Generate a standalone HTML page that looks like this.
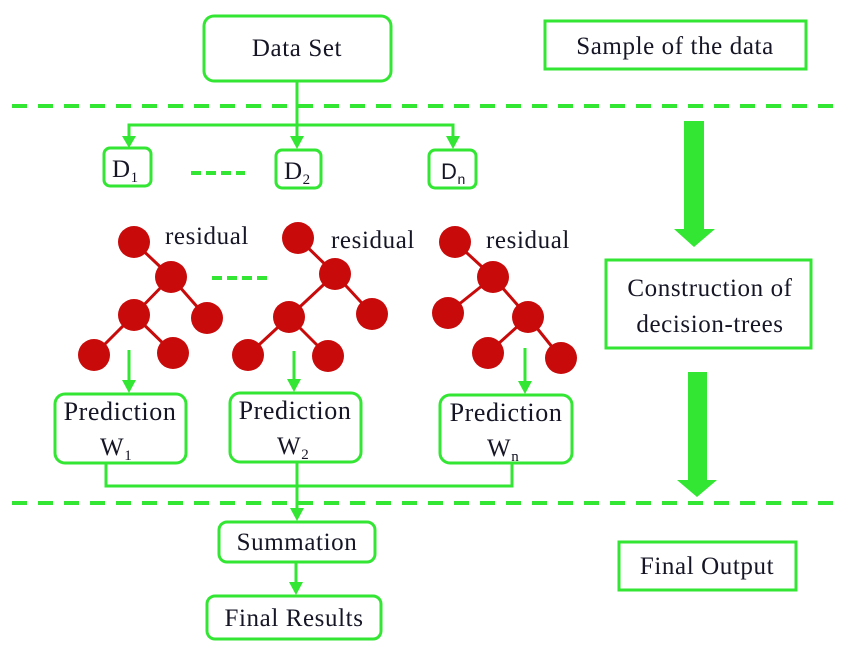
<!DOCTYPE html>
<html><head><meta charset="utf-8"><style>
html,body{margin:0;padding:0;background:#fff;}
svg{display:block;}
text{font-family:"Liberation Serif",serif;fill:#151525;letter-spacing:0.6px;}
</style></head><body>
<svg width="850" height="657" viewBox="0 0 850 657" xmlns="http://www.w3.org/2000/svg">
<g stroke="#33e633" fill="none" stroke-width="3">
<line x1="12" y1="106" x2="835" y2="106" stroke-width="4" stroke-dasharray="15 11"/>
<line x1="12" y1="503" x2="835" y2="503" stroke-width="4" stroke-dasharray="15 11"/>
<rect x="204" y="16" width="187" height="65" rx="10"/>
<rect x="545" y="21" width="261" height="48"/>
<rect x="606" y="260" width="205" height="88"/>
<rect x="619" y="542" width="177" height="48"/>
<rect x="104" y="148" width="47" height="38" rx="6"/>
<rect x="276" y="150" width="45" height="38" rx="6"/>
<rect x="429" y="150" width="47" height="38" rx="6"/>
<rect x="55" y="394" width="131" height="69" rx="10"/>
<rect x="230" y="393" width="131" height="69" rx="10"/>
<rect x="440" y="395" width="132" height="68" rx="10"/>
<rect x="219" y="522" width="156" height="40" rx="8"/>
<rect x="207" y="596" width="174" height="43" rx="8"/>
<line x1="297" y1="81" x2="297" y2="138"/>
<polyline points="129,138 129,125 453,125 453,138"/>
<line x1="129" y1="350" x2="129" y2="382"/>
<line x1="294" y1="351" x2="294" y2="381"/>
<line x1="525" y1="348" x2="525" y2="383"/>
<polyline points="106,463 106,486 512,486 512,463"/>
<line x1="297" y1="462" x2="297" y2="510"/>
<line x1="296" y1="562" x2="296" y2="584"/>
<line x1="191" y1="173" x2="245" y2="173" stroke-width="4" stroke-dasharray="10 5"/>
<line x1="212" y1="278" x2="268" y2="278" stroke-width="4" stroke-dasharray="10 5"/>
</g>
<g fill="#33e633">
<path d="M122,136 L136,136 L129,148 Z"/>
<path d="M290,136 L304,136 L297,149 Z"/>
<path d="M446,136 L460,136 L453,149 Z"/>
<path d="M122,380 L136,380 L129,393 Z"/>
<path d="M287,379 L301,379 L294,392 Z"/>
<path d="M518,381 L532,381 L525,394 Z"/>
<path d="M290,508 L304,508 L297,521 Z"/>
<path d="M289,582 L303,582 L296,595 Z"/>
<rect x="684" y="121" width="20" height="108"/>
<path d="M674,229 L715,229 L694,247 Z"/>
<rect x="688" y="372" width="19" height="108"/>
<path d="M677,480 L717,480 L697,497 Z"/>
</g>
<g stroke="#c80a0a" stroke-width="3">
<line x1="134" y1="242" x2="171" y2="277"/><line x1="171" y1="277" x2="134" y2="315"/><line x1="171" y1="277" x2="207" y2="318"/><line x1="134" y1="315" x2="94" y2="355"/><line x1="134" y1="315" x2="173" y2="353"/>
<line x1="298" y1="238" x2="335" y2="274"/><line x1="335" y1="274" x2="289" y2="317"/><line x1="335" y1="274" x2="372" y2="314"/><line x1="289" y1="317" x2="248" y2="355"/><line x1="289" y1="317" x2="328" y2="356"/>
<line x1="455" y1="242" x2="493" y2="277"/><line x1="493" y1="277" x2="448" y2="313"/><line x1="493" y1="277" x2="528" y2="317"/><line x1="528" y1="317" x2="488" y2="353"/><line x1="528" y1="317" x2="561" y2="358"/>
</g>
<g fill="#c80a0a">
<circle cx="134" cy="242" r="16"/><circle cx="171" cy="277" r="16"/><circle cx="134" cy="315" r="16"/><circle cx="207" cy="318" r="16"/><circle cx="94" cy="355" r="16"/><circle cx="173" cy="353" r="16"/>
<circle cx="298" cy="238" r="16"/><circle cx="335" cy="274" r="16"/><circle cx="289" cy="317" r="16"/><circle cx="372" cy="314" r="16"/><circle cx="248" cy="355" r="16"/><circle cx="328" cy="356" r="16"/>
<circle cx="455" cy="242" r="16"/><circle cx="493" cy="277" r="16"/><circle cx="448" cy="313" r="16"/><circle cx="528" cy="317" r="16"/><circle cx="488" cy="353" r="16"/><circle cx="561" cy="358" r="16"/>
</g>
<g font-size="25">
<text x="297" y="56" text-anchor="middle">Data Set</text>
<text x="675" y="54" text-anchor="middle">Sample of the data</text>
<text x="710" y="296" text-anchor="middle">Construction of</text>
<text x="710" y="332" text-anchor="middle">decision-trees</text>
<text x="707" y="574" text-anchor="middle">Final Output</text>
<text x="165" y="244">residual</text>
<text x="331" y="248">residual</text>
<text x="486" y="248">residual</text>
<text x="120" y="420" text-anchor="middle" font-size="26">Prediction</text>
<text x="295" y="419" text-anchor="middle" font-size="26">Prediction</text>
<text x="506" y="421" text-anchor="middle" font-size="26">Prediction</text>
<text x="297" y="550" text-anchor="middle">Summation</text>
<text x="294" y="626" text-anchor="middle">Final Results</text>
<text x="112" y="177">D<tspan font-size="15" dy="5">1</tspan></text>
<text x="284" y="179">D<tspan font-size="15" dy="5">2</tspan></text>
<text x="441" y="179" style="font-family:'Liberation Sans',sans-serif" font-size="22">D<tspan font-size="14" dy="5">n</tspan></text>
<text x="100" y="455">W<tspan font-size="15" dy="5">1</tspan></text>
<text x="277" y="454">W<tspan font-size="15" dy="5">2</tspan></text>
<text x="487" y="456">W<tspan font-size="15" dy="5">n</tspan></text>
</g>
</svg>
</body></html>
